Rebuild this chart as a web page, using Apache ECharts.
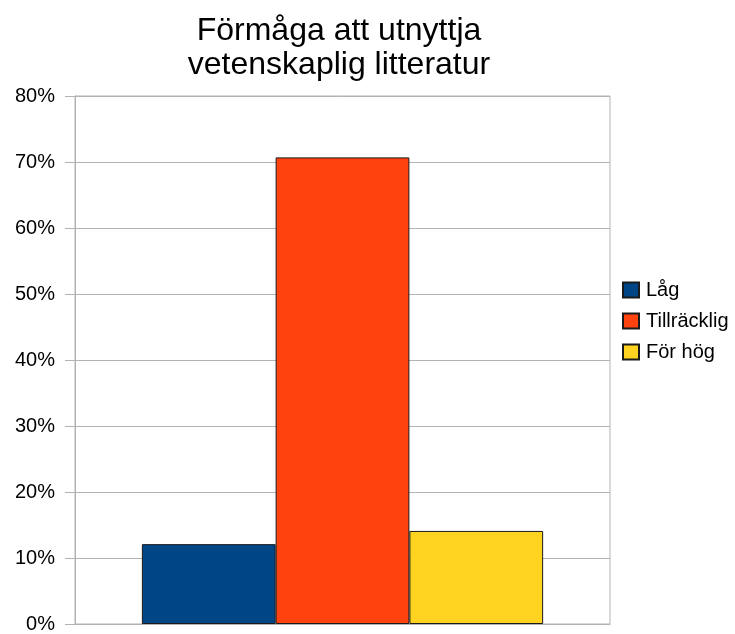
<!DOCTYPE html>
<html>
<head>
<meta charset="utf-8">
<script src="https://cdn.jsdelivr.net/npm/echarts@6/dist/echarts.min.js"></script>
<style>html,body{margin:0;padding:0;background:#fff;}#c{width:735px;height:634px;}</style>
</head>
<body>
<div id="c"></div>
<script>
const titleText = 'Förmåga att utnyttja\nvetenskaplig litteratur';
const categories = [''];
const seriesNames = ['Låg', 'Tillräcklig', 'För hög'];
const seriesColors = ['#004586', '#ff420e', '#ffd320'];
const seriesValues = [[12.1], [70.7], [14.1]];
const yTicks = { min: 0, max: 80, interval: 10 };

const chart = echarts.init(document.getElementById('c'), null, { renderer: 'canvas' });
const font = 'Liberation Sans, Arial, sans-serif';
chart.setOption({
  animation: false,
  backgroundColor: '#ffffff',
  title: {
    text: titleText,
    left: 339,
    top: 14,
    padding: 0,
    textAlign: 'center',
    textStyle: { fontFamily: font, fontSize: 32, fontWeight: 'normal', color: '#000', lineHeight: 34 }
  },
  legend: {
    orient: 'vertical',
    left: 622,
    top: 280,
    padding: 0,
    icon: 'rect',
    itemWidth: 16,
    itemHeight: 15,
    itemGap: 11,
    textStyle: { fontFamily: font, fontSize: 20, color: '#000', padding: [0, 0, 0, 2] },
    data: seriesNames
  },
  grid: {
    left: 75, right: 125, top: 96, bottom: 10,
    show: true, borderColor: '#b3b3b3', borderWidth: 1,
    containLabel: false
  },
  xAxis: {
    type: 'category',
    data: categories,
    axisLine: { lineStyle: { color: '#b3b3b3' } },
    axisTick: { alignWithLabel: true, length: 10, lineStyle: { color: '#b3b3b3' } },
    axisLabel: { show: false },
    splitLine: { show: false }
  },
  yAxis: {
    type: 'value',
    min: yTicks.min, max: yTicks.max, interval: yTicks.interval,
    axisLine: { show: true, lineStyle: { color: '#b3b3b3' } },
    axisTick: { show: true, length: 10, lineStyle: { color: '#b3b3b3' } },
    axisLabel: { formatter: '{value}%', fontFamily: font, fontSize: 20, color: '#000', margin: 20 },
    splitLine: { show: true, lineStyle: { color: '#b3b3b3' } }
  },
  series: seriesNames.map((name, i) => ({
    name: name,
    type: 'bar',
    data: seriesValues[i],
    barGap: '0%',
    barCategoryGap: '25%',
    itemStyle: { color: seriesColors[i], borderColor: '#1a1a1a', borderWidth: 1 }
  }))
});
</script>
</body>
</html>
